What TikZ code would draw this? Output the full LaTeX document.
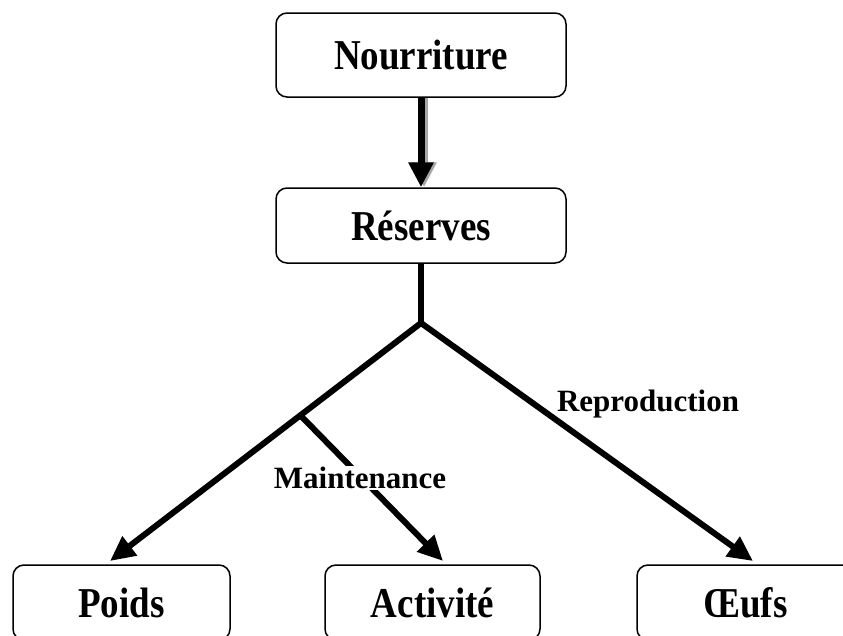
\documentclass[tikz,border=0pt]{standalone}
\usepackage{fontspec}
\usepackage{graphicx}
\setmainfont{Liberation Serif}
\usetikzlibrary{arrows.meta}
\newcommand{\tallbox}[1]{\scalebox{1}[1.15]{#1}}
\begin{document}
\begin{tikzpicture}[x=1pt,y=-1pt,
  box/.style={draw=black,line width=1.5pt,rounded corners=11pt,fill=white,
    minimum width=#1,minimum height=75pt,inner sep=0pt,
    font=\fontsize{37}{40}\selectfont\bfseries},
  box/.default=290pt,
  thick line/.style={line width=6.5pt},
  arr/.style={line width=6pt,-{Triangle[length=25pt,width=23pt]}},
  lbl/.style={font=\fontsize{31}{34}\selectfont\bfseries,inner sep=1pt}]
\useasboundingbox (0,0) rectangle (843,635);
\clip (0,0) rectangle (843,635);
% nodes
\node[box=290pt,minimum height=84pt] (nour) at (421,55) {\tallbox{Nourriture}};
\node[box=290pt] (res) at (421,225.5) {\tallbox{Réserves}};
\node[box=217pt] (poids) at (121.5,602.5) {\tallbox{Poids}};
\node[box=215pt] (act) at (432.5,602.5) {\tallbox{Activité}};
\node[box=217pt] (oeufs) at (745.5,602.5) {\tallbox{Œufs}};
% coordinates
\coordinate (J) at (421,323);
\coordinate (K) at (302,417);
\coordinate (tP) at (110,561);
\coordinate (tA) at (443,561);
\coordinate (tO) at (753,561);
% top arrow with shadow
\draw[line width=7pt,gray!70,-{Triangle[length=25pt,width=24pt]}]
  ([xshift=3pt]nour.south) -- ([xshift=3pt]res.north);
\draw[line width=7pt,black,-{Triangle[length=25pt,width=24pt]}]
  (nour.south) -- (res.north);
% tree
\draw[thick line] (res.south) -- (J);
\draw[arr] (J) -- (tP);
\draw[arr] (J) -- (tO);
\draw[arr] (K) -- (tA);
\node[lbl,fill=white] (maint) at (360,478) {Maintenance};
\node[lbl] (repro) at (648,404) {Reproduction};
\end{tikzpicture}
\end{document}
